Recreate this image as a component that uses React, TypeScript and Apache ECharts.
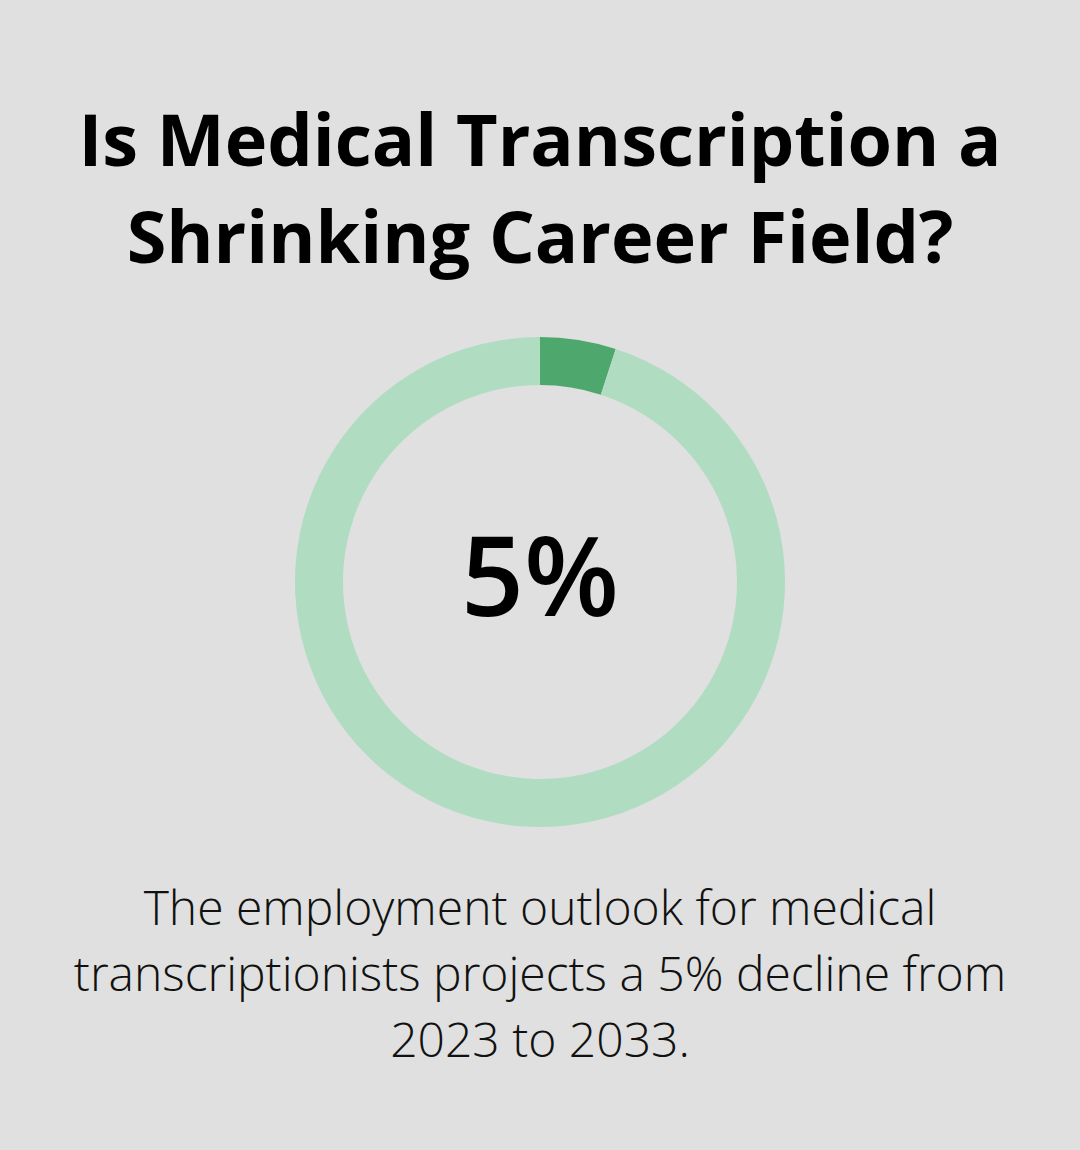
import React, { useEffect, useRef } from "react";
import * as echarts from "echarts";

const titleLines = ["Is Medical Transcription a", "Shrinking Career Field?"];
const categories = ["Decline", "Remaining"];
const values = [5, 95];
const centerLabel = "5%";
const bodyLines = [
  "The employment outlook for medical",
  "transcriptionists projects a 5% decline from",
  "2023 to 2033.",
];

export default function App() {
  const ref = useRef<HTMLDivElement>(null);
  useEffect(() => {
    document.body.style.margin = "0";
    const chart = echarts.init(ref.current!, null, { renderer: "svg" });
    const font = "'Open Sans', sans-serif";
    chart.setOption({
      animation: false,
      backgroundColor: "#DFE0DF",
      graphic: [
        ...titleLines.map((t, i) => ({
          type: "text",
          x: 540,
          y: 138 + i * 97,
          style: {
            text: t,
            fill: "#000",
            font: `bold 72px ${font}`,
            textAlign: "center",
            textVerticalAlign: "middle",
          },
        })),
        {
          type: "text",
          x: 540,
          y: 573,
          z: 10,
          style: {
            text: centerLabel,
            fill: "#000",
            font: `600 110px ${font}`,
            textAlign: "center",
            textVerticalAlign: "middle",
          },
        },
        ...bodyLines.map((t, i) => ({
          type: "text",
          x: 540,
          y: 906 + i * 66,
          style: {
            text: t,
            fill: "#111",
            font: `300 48px ${font}`,
            textAlign: "center",
            textVerticalAlign: "middle",
          },
        })),
      ],
      series: [
        {
          type: "pie",
          center: [540, 582],
          radius: [197, 245],
          startAngle: 90,
          clockwise: true,
          silent: true,
          label: { show: false },
          labelLine: { show: false },
          itemStyle: { borderWidth: 0 },
          data: categories.map((c, i) => ({
            name: c,
            value: values[i],
            itemStyle: { color: i === 0 ? "#4EA86E" : "#B0DCC1" },
          })),
        },
      ],
    });
    return () => chart.dispose();
  }, []);
  return <div ref={ref} style={{ width: 1080, height: 1150 }} />;
}
